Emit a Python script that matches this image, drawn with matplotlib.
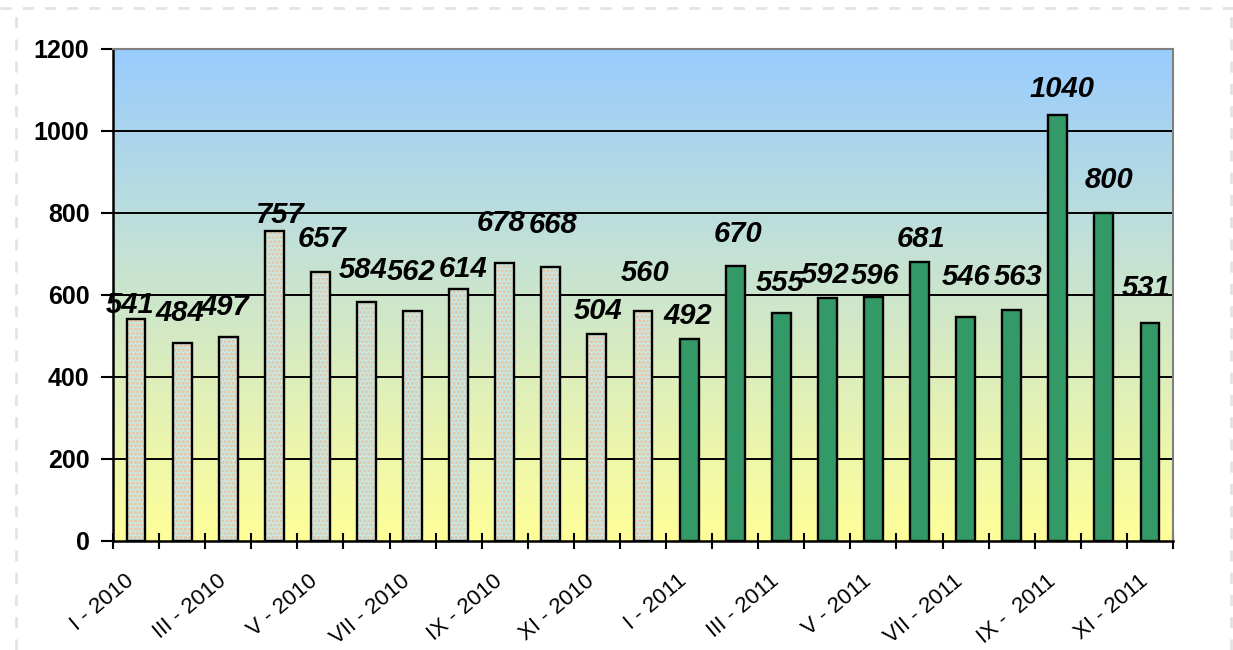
import numpy as np
import matplotlib
matplotlib.use('Agg')
from matplotlib import pyplot as plt
from matplotlib.lines import Line2D
from matplotlib.transforms import ScaledTranslation

plt.rcParams['font.family'] = ['Liberation Sans', 'DejaVu Sans']
plt.rcParams['hatch.linewidth'] = 1.5

months = ['I', 'II', 'III', 'IV', 'V', 'VI', 'VII', 'VIII', 'IX', 'X', 'XI', 'XII',
          'I', 'II', 'III', 'IV', 'V', 'VI', 'VII', 'VIII', 'IX', 'X', 'XI']
years = [2010] * 12 + [2011] * 11
values = [541, 484, 497, 757, 657, 584, 562, 614, 678, 668, 504, 560,
          492, 670, 555, 592, 596, 681, 546, 563, 1040, 800, 531]
tick_labels = ['I - 2010', 'III - 2010', 'V - 2010', 'VII - 2010', 'IX - 2010', 'XI - 2010',
               'I - 2011', 'III - 2011', 'V - 2011', 'VII - 2011', 'IX -  2011', 'XI - 2011']

# where the value labels sit (they were moved by hand in the original)
label_dx = [-0.13, -0.04, -0.07, 0.13, 0.04, -0.07, -0.04, 0.09, -0.07, 0.04, 0.02, 0.04,
            -0.02, 0.07, -0.02, -0.04, 0.04, 0.04, 0.02, 0.13, 0.09, 0.11, -0.09]
label_y = [576, 556, 571, 795, 737, 661, 656, 663, 776, 771, 561, 654,
           549, 749, 629, 649, 646, 737, 644, 644, 1102, 880, 617]

x = np.arange(len(values))
is_2010 = np.array(years) == 2010
vals = np.array(values)

fig = plt.figure(figsize=(12.33, 6.5), dpi=100)
ax = fig.add_axes([113 / 1233, 1 - 541 / 650, 1060 / 1233, 492 / 650])

# background gradient
grad = np.linspace(0, 1, 256).reshape(-1, 1)
top = np.array([153, 204, 255]) / 255
bottom = np.array([255, 255, 153]) / 255
img = bottom + (top - bottom) * grad[:, :, None]
ax.imshow(img, extent=[-0.5, 22.5, 0, 1200], origin='lower', aspect='auto', zorder=0)

for yv in [200, 400, 600, 800, 1000]:
    ax.axhline(yv, color='black', linewidth=1.4, zorder=1)

w = 0.41
# 2010 bars: checkered light pattern
ax.bar(x[is_2010], vals[is_2010], width=w, color='#c8e8e2', edgecolor='#ecc09c',
       hatch='....', linewidth=0, zorder=2)
ax.bar(x[is_2010], vals[is_2010], width=w, fill=False, edgecolor='black', linewidth=1.7, zorder=3)
# 2011 bars
ax.bar(x[~is_2010], vals[~is_2010], width=w, color='#339966', edgecolor='black',
       linewidth=1.7, zorder=3)

for i, v in enumerate(values):
    ax.text(i + label_dx[i], label_y[i], str(v), ha='center', va='center',
            fontsize=21, fontweight='bold', fontstyle='italic', zorder=4)

ax.set_xlim(-0.5, 22.5)
ax.set_ylim(0, 1200)
ax.set_yticks(range(0, 1201, 200))
ax.tick_params(axis='y', direction='out', length=9, width=1.5, pad=8, labelsize=18)
for lab in ax.get_yticklabels():
    lab.set_fontweight('bold')

ax.set_xticks(np.arange(-0.5, 23, 1))
ax.set_xticklabels([])
ax.tick_params(axis='x', which='major', direction='inout', length=12, width=1.5)
ax.set_xticks(np.arange(0, 23, 2), minor=True)
ax.set_xticklabels(tick_labels, minor=True, rotation=40, ha='right', va='center',
                   rotation_mode='anchor', fontsize=16)
ax.tick_params(axis='x', which='minor', length=0, pad=27)
shift = ScaledTranslation(-5 / 100, 0, fig.dpi_scale_trans)
for lab in ax.get_xticklabels(minor=True):
    lab.set_transform(lab.get_transform() + shift)

ax.spines['left'].set_linewidth(1.8)
ax.spines['bottom'].set_linewidth(1.8)
ax.spines['top'].set_color('#808080')
ax.spines['right'].set_color('#808080')
ax.spines['top'].set_linewidth(1.5)
ax.spines['right'].set_linewidth(1.5)
for s in ax.spines.values():
    s.set_zorder(5)

# faint slide border
dash = dict(color='#e4e4e4', linewidth=2, linestyle=(0, (4, 4)), transform=fig.transFigure)
fig.add_artist(Line2D([0.0, 1.0], [1 - 8 / 650, 1 - 8 / 650], **dash))
fig.add_artist(Line2D([16 / 1233, 16 / 1233], [0, 1 - 8 / 650], **dash))
fig.add_artist(Line2D([1231 / 1233, 1231 / 1233], [0, 1 - 8 / 650], **dash))

fig.savefig('out.png', dpi=100)
